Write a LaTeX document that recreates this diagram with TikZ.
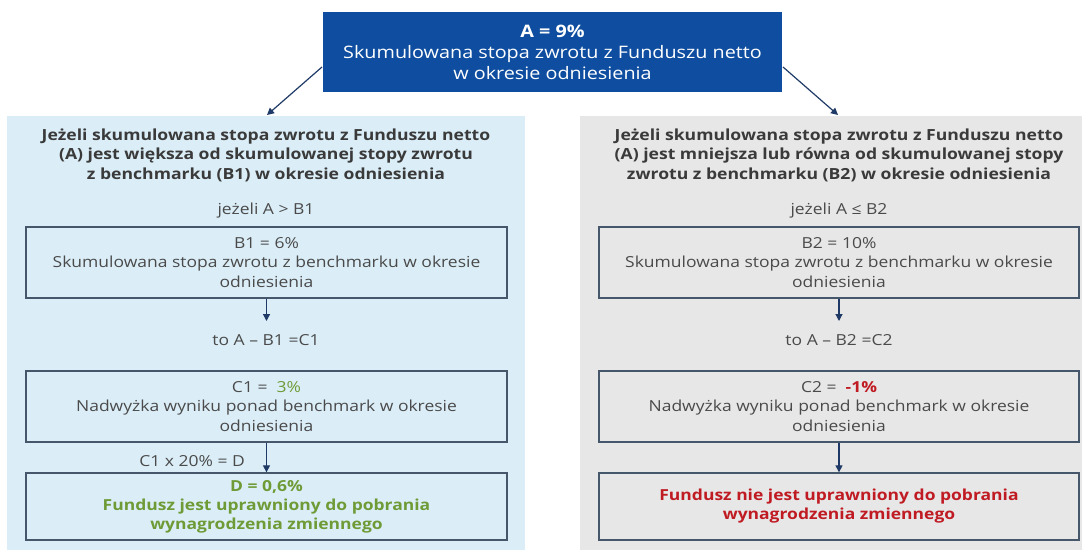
\documentclass[tikz,border=0pt]{standalone}
\usepackage{fontspec}
\setmainfont{Open Sans}[FakeStretch=1.15]
\usetikzlibrary{arrows.meta,calc}
\definecolor{topblue}{HTML}{0E4D9F}
\definecolor{lblue}{HTML}{DBEEF8}
\definecolor{lgray}{HTML}{E7E7E7}
\definecolor{bordc}{HTML}{46566B}
\definecolor{arrc}{HTML}{1F3A66}
\definecolor{txt}{HTML}{4A4A4A}
\definecolor{htxt}{HTML}{3A3A3A}
\definecolor{okgreen}{HTML}{6E9B36}
\definecolor{nored}{HTML}{C01A22}
\tikzset{
  panel/.style={draw=none, inner sep=0pt},
  stepbox/.style={draw=bordc, line width=1.3pt, minimum width=481pt, minimum height=71pt, inner sep=0pt, align=center, text=txt, font=\fontsize{15.2}{19.5}\selectfont},
  plain/.style={align=center, text=txt, inner sep=0pt, font=\fontsize{15.2}{19.5}\selectfont},
  head/.style={align=center, text=htxt, inner sep=0pt, font=\fontsize{15.3}{19.5}\selectfont\bfseries},
  arr/.style={draw=arrc, line width=1.2pt, -{Triangle[length=7pt,width=7pt]}},
}
\begin{document}
\begin{tikzpicture}[x=1pt,y=-1pt]
\useasboundingbox (0,0) rectangle (1086,551);
% panels
\node[panel, fill=lblue, minimum width=518pt, minimum height=434pt] (lp) at (266,333) {};
\node[panel, fill=lgray, minimum width=502pt, minimum height=434pt] (rp) at (831,333) {};
% top box
\node[panel, fill=topblue, minimum width=459pt, minimum height=80pt, text=white, align=center,
  font=\fontsize{17.2}{21}\selectfont] (top) at (552.5,52)
  {\textbf{A = 9\%}\\Skumulowana stopa zwrotu z Funduszu netto\\w okresie odniesienia};
\coordinate (tl) at (322,67);
\coordinate (tr) at (783,67);
\coordinate (tlend) at (267,115);
\coordinate (trend) at (838,115);
\draw[arr] (tl) -- (tlend);
\draw[arr] (tr) -- (trend);
% left column
\node[head] (lh) at (266,155) {Jeżeli skumulowana stopa zwrotu z Funduszu netto\\(A) jest większa od skumulowanej stopy zwrotu\\z benchmarku (B1) w okresie odniesienia};
\node[plain] (lc1) at (266,211) {jeżeli A > B1};
\node[stepbox] (b1) at (266.5,262.5) {B1 = 6\%\\Skumulowana stopa zwrotu z benchmarku w okresie\\odniesienia};
\node[plain] (lc2) at (266,340) {to A – B1 =C1};
\node[stepbox] (c1) at (266.5,406.5) {C1 = \ \textcolor{okgreen}{3\%}\\Nadwyżka wyniku ponad benchmark w okresie\\odniesienia};
\node[stepbox, text=okgreen, font=\fontsize{15.2}{19}\selectfont\bfseries, minimum height=67pt] (d) at (266.5,506.5) {D = 0,6\%\\Fundusz jest uprawniony do pobrania\\wynagrodzenia zmiennego};
\draw[arr] (b1.south) -- (b1.south |- 0,321);
\draw[arr] (c1.south) -- (d.north);
\node[plain, anchor=east] (lc3) at (245,461) {C1 x 20\% = D};
% right column
\node[head] (rh) at (839,155) {Jeżeli skumulowana stopa zwrotu z Funduszu netto\\(A) jest mniejsza lub równa od skumulowanej stopy\\zwrotu z benchmarku (B2) w okresie odniesienia};
\node[plain] (rc1) at (839,211) {jeżeli A ≤ B2};
\node[stepbox, minimum width=480pt] (b2) at (839,262.5) {B2 = 10\%\\Skumulowana stopa zwrotu z benchmarku w okresie\\odniesienia};
\node[plain] (rc2) at (839,340) {to A – B2 =C2};
\node[stepbox, minimum width=480pt] (c2) at (839,406.5) {C2 = \ \textcolor{nored}{\bfseries -1\%}\\Nadwyżka wyniku ponad benchmark w okresie\\odniesienia};
\node[stepbox, minimum width=480pt, minimum height=67pt, text=nored, font=\fontsize{15.2}{19}\selectfont\bfseries] (e) at (839,506.5) {Fundusz nie jest uprawniony do pobrania\\wynagrodzenia zmiennego};
\draw[arr] (b2.south) -- (b2.south |- 0,321);
\draw[arr] (c2.south) -- (e.north);
\end{tikzpicture}
\end{document}
